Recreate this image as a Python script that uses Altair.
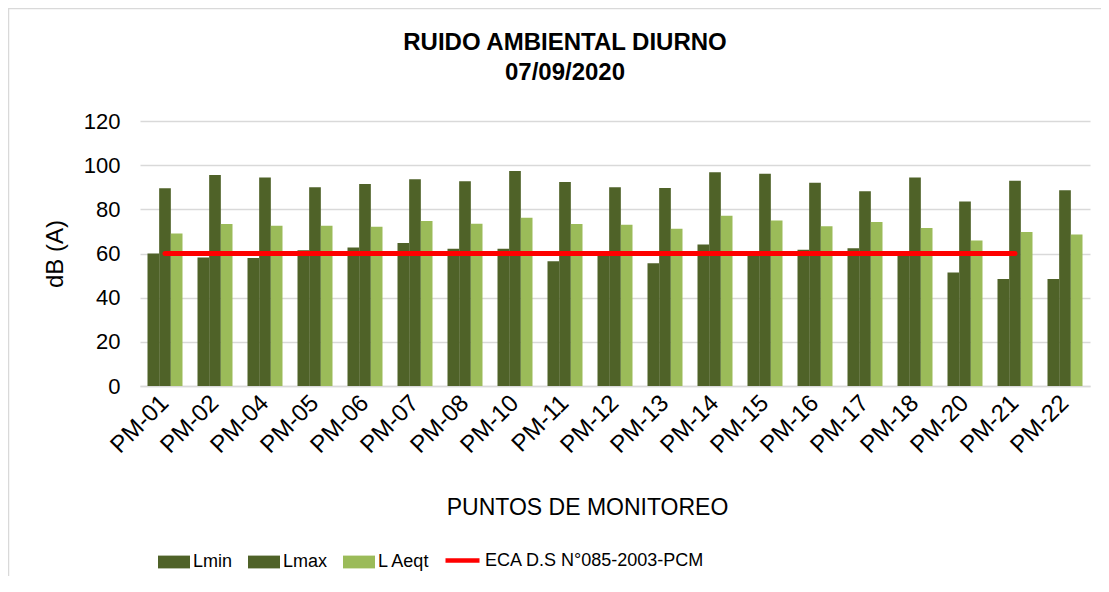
import altair as alt
import pandas as pd

categories = ["PM-01", "PM-02", "PM-04", "PM-05", "PM-06", "PM-07", "PM-08", "PM-10",
              "PM-11", "PM-12", "PM-13", "PM-14", "PM-15", "PM-16", "PM-17", "PM-18",
              "PM-20", "PM-21", "PM-22"]
lmin = [60.0, 58.2, 58.0, 61.5, 62.7, 64.7, 62.1, 62.1, 56.5, 60.5, 55.6, 64.1, 60.5,
        61.7, 62.4, 60.5, 51.4, 48.5, 48.4]
lmax = [89.5, 95.6, 94.4, 90.0, 91.5, 93.6, 92.7, 97.4, 92.4, 90.0, 89.7, 96.8, 96.1,
        92.0, 88.2, 94.4, 83.6, 92.9, 88.6]
laeq = [69.1, 73.4, 72.6, 72.6, 72.1, 74.7, 73.5, 76.2, 73.4, 73.0, 71.2, 77.1, 75.0,
        72.3, 74.3, 71.5, 65.9, 69.7, 68.6]
eca_points = ["PM-01", "PM-02", "PM-04", "PM-05", "PM-06", "PM-07", "PM-08", "PM-10",
              "PM-11", "PM-12", "PM-13", "PM-14", "PM-15", "PM-16", "PM-17", "PM-18",
              "PM-20", "PM-21"]
eca = [60, 60, 60, 60, 60, 60, 60, 60, 60, 60, 60, 60, 60, 60, 60, 60, 60, 60]

series_names = ["Lmin", "Lmax", "L Aeqt"]
series_colors = ["#4F6228", "#4F6228", "#9BBB59"]
eca_name = "ECA D.S N°085-2003-PCM"

rows = []
for name, vals in zip(series_names, [lmin, lmax, laeq]):
    for c, v in zip(categories, vals):
        rows.append({"cat": c, "series": name, "value": v})
bars_df = pd.DataFrame(rows)
line_df = pd.DataFrame({"cat": eca_points, "value": eca, "ref": [eca_name] * len(eca)})

FONT = "Liberation Sans"

x_enc = alt.X("cat:N", sort=categories,
              scale=alt.Scale(domain=categories, paddingInner=0.3, paddingOuter=0.15),
              axis=alt.Axis(title="PUNTOS DE MONITOREO", labelAngle=-45, labelAlign="right",
                            labelBaseline="middle", labelPadding=13, ticks=False,
                            domainColor="#D9D9D9", domainWidth=1.5, grid=False,
                            labelFontSize=24, labelFont=FONT, labelColor="#000000",
                            titleFontSize=23, titleFont=FONT, titleFontWeight="normal",
                            titleColor="#000000", titleX=447, titleY=110,
                            titleAlign="center", titleBaseline="top"))
y_scale = alt.Scale(domain=[0, 120], nice=False)
y_axis = alt.Axis(title="dB (A)", values=[0, 20, 40, 60, 80, 100, 120], grid=True,
                  gridColor="#D9D9D9", gridWidth=1.5, domain=False, ticks=False,
                  tickSize=0, labelPadding=20, labelFontSize=22, labelFont=FONT,
                  labelColor="#000000", titleFontSize=24, titleFont=FONT,
                  titleFontWeight="normal", titleColor="#000000", titlePadding=16)

bars = alt.Chart(bars_df).mark_bar().encode(
    x=x_enc,
    xOffset=alt.XOffset("series:N", sort=series_names,
                        scale=alt.Scale(domain=series_names, paddingInner=0, paddingOuter=0)),
    y=alt.Y("value:Q", scale=y_scale, axis=y_axis),
    color=alt.Color("series:N", sort=series_names,
                    scale=alt.Scale(domain=series_names, range=series_colors),
                    legend=alt.Legend(title=None, orient="none", direction="horizontal",
                                      legendX=18, legendY=425, padding=0,
                                      symbolType="M-1,-0.4H1V0.4H-1Z", symbolSize=1024,
                                      symbolStrokeWidth=0, symbolOpacity=1,
                                      labelFontSize=18, labelFont=FONT, labelColor="#000000",
                                      labelOffset=3, columnPadding=15, labelLimit=400)),
)

line = alt.Chart(line_df).mark_line(strokeWidth=5, strokeCap="round").encode(
    x=alt.X("cat:N", sort=categories),
    y=alt.Y("value:Q"),
    stroke=alt.Stroke("ref:N", scale=alt.Scale(domain=[eca_name], range=["#FF0000"]),
                      legend=alt.Legend(title=None, orient="none", direction="horizontal",
                                        legendX=303, legendY=420, padding=0,
                                        symbolType="stroke", symbolSize=1156,
                                        symbolStrokeWidth=4.5, labelFontSize=18,
                                        labelFont=FONT, labelColor="#000000",
                                        labelOffset=3, labelLimit=400)),
)

border = alt.Chart(pd.DataFrame({"b": [0]})).mark_rect(
    filled=False, stroke="#D9D9D9", strokeWidth=1.5
).encode(x=alt.value(-131.5), x2=alt.value(1100), y=alt.value(-112.5), y2=alt.value(600))

chart = alt.layer(border, bars, line).properties(
    width=950, height=265,
    autosize="none",
    padding={"left": 132, "top": 113, "right": 11, "bottom": 190},
    title=alt.Title(["RUIDO AMBIENTAL DIURNO", "07/09/2020"], fontSize=24,
                    fontWeight="bold", font=FONT, color="#000000", anchor="middle",
                    dx=-50, offset=-77, lineHeight=30),
).configure_view(stroke=None)

chart.save("out.html", embed_options={"renderer": "svg", "actions": False})
